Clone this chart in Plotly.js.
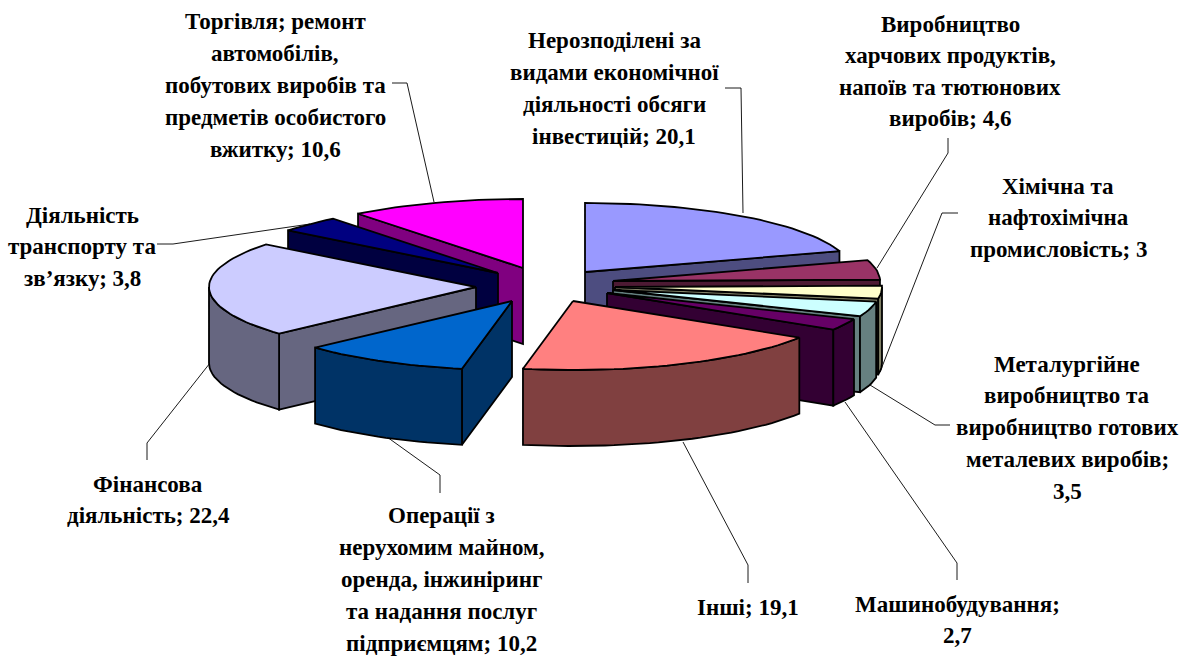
<!DOCTYPE html>
<html><head><meta charset="utf-8">
<script src="https://cdn.plot.ly/plotly-3.0.1.min.js"></script>
<style>html,body{margin:0;padding:0;background:#fff;overflow:hidden}</style>
</head><body><div id="chart" style="width:1186px;height:657px"></div>
<script>
// Data (clockwise from 12 o'clock)
const categories = ["Нерозподілені","Харчові","Хімічна","Металургійне","Машинобудування","Інші","Нерухомість","Фінансова","Транспорт","Торгівля"];
const values = [20.1,4.6,3.0,3.5,2.7,19.1,10.2,22.4,3.8,10.6];
const topColors = ["#9999FF","#993366","#FFFFCC","#CCFFFF","#660066","#FF8080","#0066CC","#CCCCFF","#000080","#FF00FF"];
const sideColors = ["#4D4D80","#4D1A33","#808066","#668080","#330033","#804040","#003366","#666680","#000040","#800080"];
// Exploded slice apexes in the projected plane
const apexX = [585,613,615,613,607,573,512,476,498,523];
const apexY = [272,281,287,290,293,301,301,287,273,268];
const drawOrder = [9,8,7,0,1,2,3,4,5,6];
const RX = 267, RY = 69, DEPTH = 76;

const labelLines = [
 ["Нерозподілені за","видами економічної","діяльності обсяги","інвестицій; 20,1"],
 ["Виробництво","харчових продуктів,","напоїв та тютюнових","виробів; 4,6"],
 ["Хімічна та","нафтохімічна","промисловість; 3"],
 ["Металургійне","виробництво та","виробництво готових","металевих виробів;","3,5"],
 ["Машинобудування;","2,7"],
 ["Інші; 19,1"],
 ["Операції з","нерухомим майном,","оренда, інжиніринг","та надання послуг","підприємцям; 10,2"],
 ["Фінансова","діяльність; 22,4"],
 ["Діяльність","транспорту та","зв’язку; 3,8"],
 ["Торгівля; ремонт","автомобілів,","побутових виробів та","предметів особистого","вжитку; 10,6"]
];
const labelCx = [614,950,1058,1067,957,748,441,148,82,275];
const labelY0 = [40,24,186,364,604,607,515,484,215,21];
const labelStep = [32.3,31.5,31.5,31.8,31,0,32,31,31.5,32];

const leaderX = [[725,741,743],[948,948,877],[958,942,880],[950,935,870],[957,957,845],[748,748,683],[440,440,387],[147,147,210],[157,173,310],[392,407,434]];
const leaderY = [[88,88,213],[138,153,268],[213,213,372],[425,425,385],[580,563,402],[583,565,442],[493,475,437],[460,443,363],[244,244,224],[83,83,202]];

const rad = d => d*Math.PI/180;
const px = (cx,a) => cx + RX*Math.sin(rad(a));
const py = (cy,a) => cy - RY*Math.cos(rad(a));
const total = values.reduce((a,b)=>a+b,0);
let c = 0;
const starts = [], ends = [];
values.forEach(v => { starts.push(c/total*360); c += v; ends.push(c/total*360); });

function arcAngles(a0,a1){ const out=[]; const n=Math.max(2,Math.ceil((a1-a0)/2)); for(let i=0;i<=n;i++) out.push(a0+(a1-a0)*i/n); return out; }
function poly(xs,ys,fill){ return {type:"scatter",mode:"lines",x:xs.concat(xs[0]),y:ys.concat(ys[0]),fill:"toself",fillcolor:fill,line:{color:"#000",width:1.8},hoverinfo:"skip",showlegend:false}; }

const traces = [];
leaderX.forEach((xs,i)=>traces.push({type:"scatter",mode:"lines",x:xs,y:leaderY[i],line:{color:"#000",width:0.9},hoverinfo:"skip",showlegend:false}));

drawOrder.forEach(i=>{
  const ax=apexX[i], ay=apexY[i], a0=starts[i], a1=ends[i];
  if (Math.sin(rad(a0))<-1e-6){
    const ex=px(ax,a0), ey=py(ay,a0);
    traces.push(poly([ax,ex,ex,ax],[ay,ey,ey+DEPTH,ay+DEPTH],sideColors[i]));
  }
  if (Math.sin(rad(a1))>1e-6){
    const ex=px(ax,a1), ey=py(ay,a1);
    traces.push(poly([ax,ex,ex,ax],[ay,ey,ey+DEPTH,ay+DEPTH],sideColors[i]));
  }
  const lo=Math.max(a0,90), hi=Math.min(a1,270);
  if (hi>lo){
    const an=arcAngles(lo,hi);
    const xs=an.map(a=>px(ax,a)), ysT=an.map(a=>py(ay,a));
    traces.push(poly(xs.concat(xs.slice().reverse()), ysT.concat(ysT.map(y=>y+DEPTH).reverse()), sideColors[i]));
  }
  const an=arcAngles(a0,a1);
  traces.push(poly([ax].concat(an.map(a=>px(ax,a))),[ay].concat(an.map(a=>py(ay,a))),topColors[i]));
});

const annotations=[];
labelLines.forEach((lines,i)=>lines.forEach((t,k)=>annotations.push({
  x:labelCx[i],y:labelY0[i]+k*labelStep[i],xref:"x",yref:"y",text:"<b>"+t+"</b>",showarrow:false,
  xanchor:"center",yanchor:"middle",font:{family:"'Liberation Serif',serif",size:23,color:"#000"},
  borderpad:0
})));

Plotly.newPlot("chart",traces,{
  width:1186,height:657,margin:{l:0,r:0,t:0,b:0},paper_bgcolor:"#fff",plot_bgcolor:"#fff",showlegend:false,
  xaxis:{range:[0,1186],visible:false,fixedrange:true},
  yaxis:{range:[657,0],visible:false,fixedrange:true},
  annotations
},{displayModeBar:false,staticPlot:true});
</script></body></html>
